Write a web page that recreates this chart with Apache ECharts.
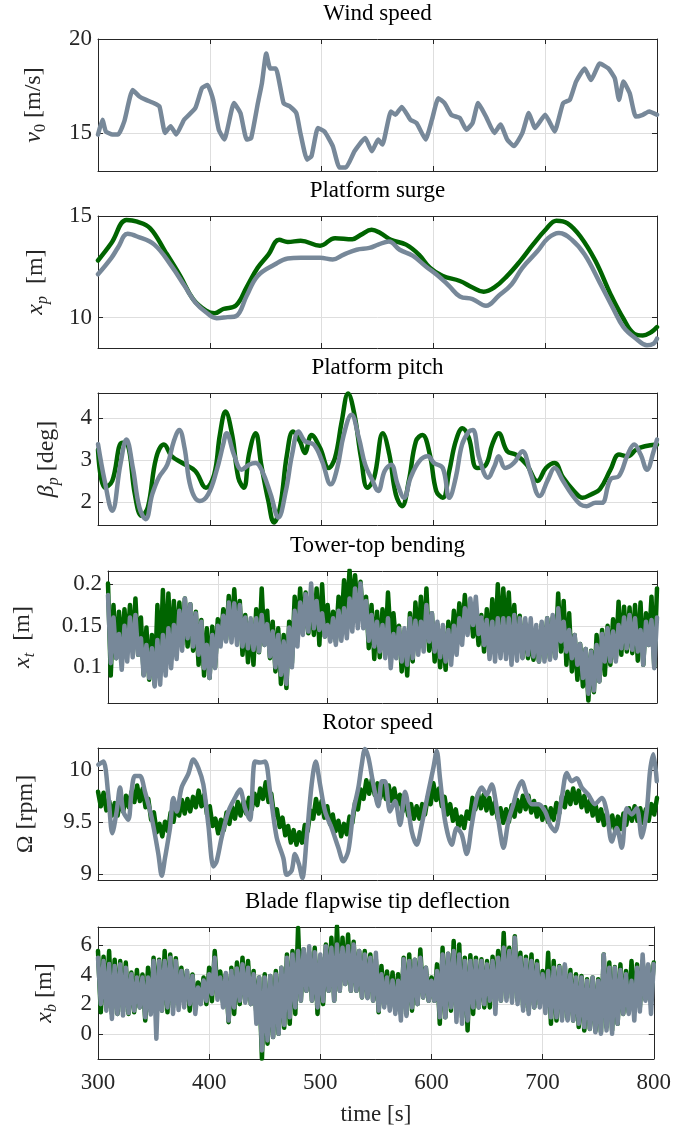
<!DOCTYPE html>
<html><head><meta charset="utf-8">
<script src="https://cdn.jsdelivr.net/npm/echarts@6/dist/echarts.min.js"></script>
<style>html,body{margin:0;padding:0;background:#fff}#c{width:674px;height:1130px}</style>
</head><body><div id="c"></div><script>
const SERIF = '"Liberation Serif","Times New Roman",serif';
const GREEN = '#006400', GRAY = '#778899', INK = '#262626', GRIDC = '#dedede';

// ---- data ----
const windT = [300,304,307,313,318,323.5,331,337,343,350,355,360,365,370,377,387,393,398,403,408,413,421.6,427.4,433,437,443,446.6,450.5,454,459,466,471.7,477.4,481,487,491,496.7,502.5,510,516,521.7,529.4,539,545,550.6,554.4,562,566,571.7,579.4,585,593,598.7,604.4,610,616,623.7,629.5,635,640,647,654.5,660,666,672,679.6,685.3,691,700,708.4,716,722,727.6,735.3,741,748.8,756.5,762.3,766,770,775.6,781,787.3,793,800];
const windV = [14.93,15.72,15.1,14.93,14.93,15.63,17.3,16.95,16.77,16.6,16.42,15.02,15.37,14.93,15.72,16.33,17.4,17.56,16.77,15.19,14.67,16.6,16.07,14.67,14.75,16.6,17.65,19.23,18.44,18.44,16.6,16.42,16.07,15.02,13.6,13.8,15.28,15.1,14.32,13.18,13.18,14.05,14.75,14.05,14.67,14.4,16.16,15.98,16.4,15.72,15.54,14.67,15.72,16.86,16.6,15.98,15.8,15.19,15.54,16.6,15.89,15.02,15.46,14.67,14.32,15.02,16.07,15.28,15.98,15.1,16.6,16.77,17.74,18.44,17.82,18.7,18.44,17.91,16.77,17.74,17.12,15.89,15.98,16.16,15.98];

const surgeGT = [300,312,325.5,335,346.6,360,373.5,385,396.6,404.3,412,423.5,433,442.8,452.4,462,469.7,481.3,498.6,512,527.5,535,544.8,552.5,562,575.6,587,596.8,608,623.7,635,645,654.5,666,677.6,689,700.7,710,720,731.5,745,758.4,770,779.6,787.3,795,800];
const surgeGV = [12.81,13.67,14.8,14.72,14.4,13.26,12.05,10.91,10.34,10.21,10.42,10.6,11.5,12.45,13.1,13.83,13.72,13.78,13.54,13.91,13.86,14.07,14.32,14.16,13.83,13.59,13.1,12.45,12.05,11.8,11.48,11.27,11.48,12.05,12.78,13.59,14.35,14.77,14.64,13.99,12.78,11.15,9.94,9.2,9.12,9.29,9.53];
const surgeYT = [300,312,317.7,326.5,335,350.4,365.8,377.4,387,396.6,406,415.8,423.5,433,442.8,458,469.7,481.3,498.6,510,519.8,531.3,542.8,550.6,560.2,569.8,581.4,593,604.4,614,623.7,635,647,658.4,670,679.6,693,702.6,712.3,723.8,735.3,748.8,760.3,770,781.3,791,797,800];
const surgeYV = [12.13,12.94,13.43,14.12,13.99,13.59,12.53,11.56,10.75,10.26,9.97,10.02,10.07,11.07,12.05,12.61,12.91,12.94,12.94,12.86,13.1,13.34,13.43,13.59,13.75,13.34,13.05,12.53,12.05,11.56,11.04,10.91,10.58,11.07,11.64,12.45,13.26,13.91,14.16,13.83,13.1,11.72,10.5,9.53,8.96,8.64,8.72,8.96];

const pitchGT = [300,306,312.7,321.6,326.6,333,339,344.6,352,359,366,375.4,387,396.6,404,409,414,420,425.5,430.5,435,441,446,452.4,457.4,462.8,469,474.4,480.6,485,491,498.6,506.3,512,518,523.7,529.4,535.3,541,547,554.8,560.6,566.4,572,578,584.4,590.2,596.8,602.6,608.4,614.2,620,626,631.7,639,647,652.6,658.4,666,673.7,683.4,693,700.7,708.4,716,725.7,733.4,741,748.8,758.4,766,773.8,781.4,789.2,800];
const pitchGV = [3.25,2.34,2.5,3.41,3.37,2.18,1.67,1.87,3.05,3.37,3.09,2.93,2.74,2.34,2.66,3.6,4.16,3.6,2.58,2.34,3.13,3.64,2.89,2.02,1.51,1.87,3.13,3.68,3.45,3.17,3.6,3.29,2.81,3.05,3.92,4.59,4.08,3.05,2.34,2.58,3.64,3.13,2.18,1.9,2.5,3.45,3.6,3.13,2.26,2.1,2.74,3.45,3.76,3.53,2.81,2.89,3.37,3.64,3.21,3.13,2.89,2.5,2.81,2.93,2.58,2.26,2.1,2.18,2.3,2.77,3.13,3.09,3.25,3.33,3.37];
const pitchYT = [300,306,312.7,320,325.4,331.2,337,342.7,348.5,354.3,362,367.8,372.7,377.4,383,391,398.5,406,412,415,421.6,428.5,435,441,446.8,454.5,461.3,468,473.6,479.4,485,493,500.5,508.2,514,519.8,526.7,533.3,539,545,550.6,556.4,562.2,568,573.8,579.6,587.3,595,600.6,608.4,614.2,620,625.6,631.7,635.3,641,648.8,654.6,658.4,664.2,672,679.5,687.2,694.9,702.6,708.4,716,723.8,731.5,737.2,745,750.7,758.4,766,773.8,779.6,785.4,791,797,800];
const pitchYV = [3.38,2.5,1.79,2.89,3.49,2.81,1.87,1.59,2.18,2.58,2.89,3.45,3.72,3.29,2.34,2.02,2.18,2.74,3.37,3.64,3.13,2.77,2.89,2.93,2.74,2.18,1.63,2.26,3.13,3.68,3.45,3.37,2.97,2.42,2.81,3.6,4.08,3.53,2.89,2.54,2.26,2.74,2.89,2.42,2.1,2.58,2.97,3.09,2.93,2.81,2.1,2.58,3.37,3.68,3.72,3.05,2.58,2.85,3.09,2.81,2.93,3.21,2.66,2.14,2.54,2.81,2.5,2.18,1.94,1.9,1.98,1.98,2.54,2.62,3.13,3.37,3.13,2.77,3.21,3.49];

// fast-oscillating signals: peaks (hi, at 300,305,...,800 s) and troughs (lo, at 302.5,...,797.5 s)
const towerGHi = [.201,.175,.167,.17,.175,.183,.16,.148,.139,.175,.193,.189,.18,.178,.183,.176,.167,.157,.147,.149,.158,.17,.186,.194,.18,.163,.155,.17,.195,.168,.155,.147,.139,.155,.185,.195,.19,.178,.195,.2,.175,.167,.185,.205,.217,.211,.203,.185,.175,.167,.17,.19,.165,.15,.139,.165,.178,.185,.195,.165,.152,.143,.155,.168,.177,.187,.175,.166,.163,.17,.182,.2,.195,.19,.175,.162,.153,.135,.141,.152,.159,.16,.189,.18,.165,.139,.128,.122,.12,.139,.145,.15,.158,.179,.173,.172,.175,.178,.165,.185,.195];
const towerGLo = [.09,.111,.119,.123,.12,.115,.091,.085,.079,.099,.105,.115,.123,.127,.125,.12,.103,.09,.087,.1,.128,.133,.136,.139,.115,.106,.103,.118,.127,.111,.095,.08,.075,.105,.139,.143,.141,.139,.127,.137,.137,.131,.148,.163,.17,.168,.155,.123,.11,.112,.12,.135,.127,.095,.09,.107,.125,.125,.12,.107,.1,.097,.115,.128,.138,.143,.137,.127,.119,.115,.122,.131,.139,.127,.119,.112,.111,.109,.107,.111,.111,.113,.119,.103,.095,.085,.077,.06,.07,.083,.091,.103,.11,.115,.119,.117,.108,.103,.127,.101];
const towerYHi = [.187,.16,.14,.15,.16,.163,.135,.127,.123,.133,.139,.147,.151,.168,.183,.176,.165,.155,.127,.139,.15,.162,.178,.177,.175,.16,.159,.159,.163,.152,.143,.139,.131,.148,.168,.178,.188,.201,.18,.165,.151,.159,.168,.171,.183,.195,.201,.18,.163,.155,.151,.159,.14,.147,.147,.159,.156,.155,.175,.165,.155,.151,.145,.15,.159,.171,.183,.185,.16,.157,.155,.159,.159,.159,.163,.159,.159,.159,.151,.155,.159,.163,.171,.155,.145,.139,.128,.122,.119,.127,.14,.147,.143,.151,.16,.163,.159,.145,.155,.157,.16];
const towerYLo = [.105,.111,.097,.107,.112,.115,.09,.087,.077,.079,.09,.099,.11,.12,.135,.125,.115,.099,.087,.099,.125,.131,.13,.127,.125,.123,.121,.119,.127,.113,.1,.091,.08,.1,.125,.139,.143,.147,.145,.137,.131,.127,.132,.135,.143,.147,.147,.132,.125,.119,.111,.099,.111,.107,.103,.111,.115,.119,.131,.119,.112,.107,.103,.115,.127,.139,.151,.14,.127,.11,.107,.111,.11,.103,.108,.111,.115,.113,.107,.107,.109,.111,.131,.119,.111,.103,.087,.068,.072,.083,.107,.107,.107,.123,.123,.121,.119,.103,.127,.099];

const rotorGHi = [9.79,9.78,9.7,9.68,9.71,9.75,9.79,9.85,9.82,9.72,9.59,9.48,9.5,9.59,9.67,9.71,9.72,9.74,9.8,9.76,9.65,9.53,9.52,9.59,9.64,9.69,9.7,9.73,9.77,9.82,9.88,9.77,9.62,9.54,9.46,9.42,9.4,9.47,9.61,9.72,9.7,9.65,9.57,9.51,9.48,9.55,9.69,9.81,9.9,9.91,9.87,9.85,9.85,9.82,9.76,9.71,9.67,9.65,9.67,9.74,9.87,9.82,9.74,9.67,9.62,9.55,9.6,9.73,9.77,9.76,9.73,9.69,9.63,9.62,9.66,9.71,9.75,9.75,9.7,9.66,9.64,9.63,9.68,9.75,9.79,9.82,9.8,9.75,9.71,9.67,9.62,9.58,9.56,9.55,9.58,9.63,9.65,9.63,9.62,9.67,9.73];
const rotorGLo = [9.65,9.61,9.56,9.56,9.6,9.64,9.69,9.7,9.64,9.52,9.4,9.36,9.41,9.5,9.56,9.58,9.6,9.64,9.65,9.57,9.46,9.39,9.42,9.48,9.53,9.56,9.58,9.62,9.66,9.72,9.69,9.56,9.45,9.37,9.3,9.28,9.3,9.41,9.53,9.58,9.54,9.48,9.41,9.36,9.38,9.49,9.62,9.72,9.77,9.76,9.73,9.72,9.7,9.66,9.6,9.56,9.53,9.53,9.57,9.67,9.71,9.65,9.57,9.51,9.45,9.44,9.53,9.62,9.63,9.61,9.58,9.53,9.49,9.5,9.55,9.6,9.62,9.59,9.55,9.52,9.5,9.52,9.58,9.64,9.67,9.68,9.64,9.6,9.56,9.51,9.47,9.44,9.42,9.43,9.47,9.51,9.51,9.49,9.51,9.57];
const rotorYT = [300.3,304.8,309.2,312.8,316.7,319.7,322.6,327.1,330,333,337.5,342,348,354,357,359.9,364.4,367.4,370.4,374.8,380.8,385.3,389.7,394.2,398.7,403.2,406.1,410.6,416.6,422.5,427,431.5,435.9,440.4,444.9,449.4,453.9,459.8,465.8,468.8,473.2,476.2,479.8,482.8,486.7,491.1,494.7,498.6,503.1,509,515,519.4,523.9,528.4,532.9,535.9,538.8,541.8,546.3,550.8,553.8,556.7,561.2,565.7,570.2,574.6,580.6,585.1,589.5,595.5,600,603,605.9,610.4,616.4,620.9,625.3,629.8,634.3,638.8,643.2,647.7,652.2,655.2,659.6,662.6,667.1,671.6,674.5,679,683.5,688,694,699.9,704.4,708.8,714.8,719.3,723.7,728.2,732.7,738.6,744.6,750.6,755,759.5,764,768.5,772.9,777.4,781.9,786.4,790.8,793.8,796.8,799.8];
const rotorYV = [10.05,10.08,9.76,9.39,9.6,9.83,9.6,9.52,9.79,9.94,9.94,9.79,9.54,9.19,8.98,9.15,9.44,9.73,9.6,9.83,9.96,10.1,10.02,9.86,9.47,9.07,9.12,9.35,9.6,9.73,9.81,9.63,9.52,10.08,10.07,10.08,9.79,9.35,9.15,8.99,9.03,9.19,9.09,8.96,9.35,9.86,10.08,9.86,9.6,9.44,9.25,9.12,9.22,9.6,9.83,10.05,10.2,10.12,9.86,9.65,9.89,9.89,9.6,9.7,9.47,9.79,9.41,9.28,9.47,9.79,10.02,10.18,9.92,9.51,9.28,9.44,9.38,9.19,9.47,9.73,9.83,9.76,9.86,9.73,9.41,9.25,9.51,9.67,9.79,9.89,9.76,9.67,9.67,9.6,9.47,9.41,9.73,9.97,9.89,9.92,9.83,9.76,9.67,9.73,9.6,9.31,9.44,9.25,9.63,9.57,9.63,9.35,9.6,9.99,10.15,9.89];

const bladeGHi = [5.58,5.2,5.58,5.0,4.9,4.8,4.13,4.3,4.0,4.46,5.13,5.0,5.58,5.35,5.1,4.46,4.24,4.0,3.46,3.8,4.46,5.58,4.2,4.01,4.46,4.8,5.13,4.9,4.24,3.79,4.01,3.9,4.24,4.46,5.35,5.58,7.14,5.69,5.5,5.8,5.13,6.02,6.47,7.25,6.47,6.69,6.2,5.58,5.58,5.35,5.0,4.57,4.2,4.13,4.01,5.13,5.35,5.0,5.69,4.46,3.79,4.68,5.8,5.4,6.25,6.02,5.13,5.3,5.13,5.02,4.9,5.2,5.58,6.8,5.8,6.58,5.46,5.2,5.35,4.9,4.24,5.46,4.9,4.57,4.57,4.3,4.01,3.9,3.68,3.79,3.68,5.35,4.8,4.5,4.68,4.24,4.9,4.68,4.9,4.6,4.8];
const bladeGLo = [1.45,1.78,1.34,1.34,1.5,1.34,1.45,1.78,0.89,1.5,1.78,1.56,1.45,1.78,2.0,2.23,1.56,1.78,2.45,2.0,2.2,2.9,2.12,0.78,1.34,2.0,2.23,2.0,1.34,-1.67,-0.67,-0.22,0.0,0.4,0.67,1.34,2.23,2.9,2.23,1.34,2.0,2.9,2.23,2.9,3.35,2.9,2.9,2.45,2.45,2.23,1.45,2.0,2.0,1.56,1.34,1.34,1.56,2.0,2.45,2.23,2.23,0.67,1.11,1.56,1.3,1.11,0.22,1.34,1.78,1.78,1.78,2.23,2.23,2.45,2.4,2.23,1.78,1.56,1.78,2.0,2.0,0.67,0.89,1.11,1.0,0.89,0.45,0.22,0.33,0.2,0.11,0.45,0.22,0.67,1.34,1.45,1.56,1.78,2.34,2.23];
const bladeYHi = [5.13,4.9,4.7,4.57,4.68,4.46,4.01,3.79,3.8,3.79,4.9,4.9,4.9,5.13,4.9,4.24,4.24,3.9,3.12,3.6,4.01,5.13,3.79,4.1,4.24,4.4,4.68,4.46,4.01,3.79,3.79,3.9,4.01,4.46,5.13,5.35,5.58,5.7,5.91,5.5,5.35,5.91,5.8,6.02,5.8,5.9,6.02,5.58,5.35,5.13,5.46,4.01,3.79,3.6,3.57,5.02,4.9,5.0,5.13,4.46,3.57,4.24,5.35,5.4,5.58,5.35,4.9,4.9,4.9,4.9,4.68,4.9,5.13,5.8,5.58,6.47,5.13,5.0,4.9,4.68,4.01,4.24,4.46,4.5,4.68,4.0,3.79,3.79,3.57,3.79,3.57,5.35,4.46,4.46,4.3,4.01,3.57,4.46,5.35,4.68,4.7];
const bladeYLo = [2.0,1.56,1.0,1.34,1.23,1.4,1.56,1.78,1.11,1.3,-0.33,1.56,1.78,1.34,1.6,1.78,2.0,1.34,2.0,2.23,2.68,2.3,1.78,0.89,1.78,2.23,2.1,2.0,0.67,-1.12,-0.45,-0.22,0.0,0.6,1.11,1.78,2.23,2.9,2.23,1.78,2.2,2.9,2.23,2.9,3.35,2.9,2.9,2.45,2.4,2.23,1.56,1.78,1.56,1.34,0.89,1.2,1.78,2.0,2.45,2.23,2.23,1.11,1.11,1.78,0.8,0.67,0.89,1.78,1.78,2.0,2.23,1.34,2.23,2.23,2.1,2.0,1.56,1.34,1.78,1.78,1.4,1.11,1.11,0.89,0.9,0.89,0.67,0.45,0.33,0.1,0.0,0.22,0.0,0.67,1.34,1.34,0.89,1.5,2.23,1.34];

const titles = ['Wind speed','Platform surge','Platform pitch','Tower-top bending','Rotor speed','Blade flapwise tip deflection'];
const yNames = ['{i|v}{s|0} [m/s]','{i|x}{si|p}  [m]','{i|β}{si|p} [deg]','{i|x}{si|t}  [m]','Ω [rpm]','{i|x}{si|b} [m]'];
const yMin = [13, 8.5, 1.45, 0.057, 8.94, -1.7];
const yMax = [20, 15, 4.6, 0.216, 10.21, 7.2];
const yTicks = [[15,20],[10,15],[2,3,4],[0.1,0.15,0.2],[9,9.5,10],[0,2,4,6]];

// ---- helpers ----
const zip = (a, b) => a.map((t, i) => [t, b[i]]);
// peaks at 300 + 5k s, troughs at 302.5 + 5k s
const osc = (hi, lo) => {
  const out = [];
  for (let k = 0; k < hi.length; k++) {
    out.push([300 + 5 * k, hi[k]]);
    if (k < lo.length) out.push([302.5 + 5 * k, lo[k]]);
  }
  return out;
};

// ---- layout ----
const GL = 98, GW = 559, GH = 132;
const gridTop = [39, 216, 393, 571, 748, 927];
const nameGap = [49, 47, 36, 70, 57, 38];
const FS = 23, FN = 24, FSUB = 16, LW = 4.5;

const seriesDefs = [
  [{c: GRAY, d: zip(windT, windV), s: 0.15}],
  [{c: GREEN, d: zip(surgeGT, surgeGV), s: 0.4}, {c: GRAY, d: zip(surgeYT, surgeYV), s: 0.4}],
  [{c: GREEN, d: zip(pitchGT, pitchGV), s: 0.4}, {c: GRAY, d: zip(pitchYT, pitchYV), s: 0.4}],
  [{c: GREEN, d: osc(towerGHi, towerGLo), s: 0}, {c: GRAY, d: osc(towerYHi, towerYLo), s: 0}],
  [{c: GREEN, d: osc(rotorGHi, rotorGLo), s: 0}, {c: GRAY, d: zip(rotorYT, rotorYV), s: 0.3}],
  [{c: GREEN, d: osc(bladeGHi, bladeGLo), s: 0}, {c: GRAY, d: osc(bladeYHi, bladeYLo), s: 0}]
];

const grid = [], xAxis = [], yAxis = [], series = [], title = [];
const lineAx = {show: true, onZero: false, lineStyle: {color: INK, width: 1}};
const tick = {show: true, inside: true, length: 5, lineStyle: {color: INK, width: 1}};
const txt = {fontFamily: SERIF, fontSize: FS, color: INK};

for (let k = 0; k < 6; k++) {
  grid.push({left: GL, top: gridTop[k], width: GW, height: GH, containLabel: false});
  title.push({text: titles[k], left: GL + GW / 2, top: gridTop[k] - 25, textAlign: 'center', textVerticalAlign: 'middle', padding: 0,
    textStyle: {fontFamily: SERIF, fontSize: FS, fontWeight: 'normal', color: '#000'}});
  const last = k === 5;
  xAxis.push({type: 'value', gridIndex: k, position: 'bottom', min: 300, max: 800, interval: 100,
    axisLine: lineAx, axisTick: tick,
    axisLabel: {show: last, margin: 12, ...txt},
    splitLine: {show: true, lineStyle: {color: GRIDC, width: 1}},
    name: last ? 'time [s]' : '', nameLocation: 'middle', nameGap: 44, nameTextStyle: txt});
  xAxis.push({type: 'value', gridIndex: k, position: 'top', min: 300, max: 800, interval: 100,
    axisLine: lineAx, axisTick: tick, axisLabel: {show: false}, splitLine: {show: false}});
  yAxis.push({type: 'value', gridIndex: k, position: 'left', min: yMin[k], max: yMax[k],
    axisLine: lineAx,
    axisTick: {...tick, customValues: yTicks[k]},
    axisLabel: {customValues: yTicks[k], margin: 6, ...txt},
    splitLine: {show: true, lineStyle: {color: GRIDC, width: 1}},
    name: yNames[k], nameLocation: 'middle', nameGap: nameGap[k],
    nameTextStyle: {fontFamily: SERIF, fontSize: FN, color: INK, lineHeight: 30,
      rich: {
        i: {fontFamily: SERIF, fontSize: FN, fontStyle: 'italic', color: INK, lineHeight: 30},
        s: {fontFamily: SERIF, fontSize: FSUB, color: INK, verticalAlign: 'bottom', lineHeight: 30},
        si: {fontFamily: SERIF, fontSize: FSUB, fontStyle: 'italic', color: INK, verticalAlign: 'bottom', lineHeight: 30}
      }}});
  yAxis.push({type: 'value', gridIndex: k, position: 'right', min: yMin[k], max: yMax[k],
    axisLine: lineAx,
    axisTick: {...tick, customValues: yTicks[k]},
    axisLabel: {show: false}, splitLine: {show: false}});
  for (const sd of seriesDefs[k]) {
    series.push({type: 'line', xAxisIndex: 2 * k, yAxisIndex: 2 * k, data: sd.d,
      showSymbol: false, symbol: 'none', smooth: sd.s || false, clip: true,
      lineStyle: {color: sd.c, width: LW, join: 'round', cap: 'round'}, silent: true});
  }
}

const chart = echarts.init(document.getElementById('c'), null, {renderer: 'canvas'});
chart.setOption({animation: false, backgroundColor: '#fff', title, grid, xAxis, yAxis, series});
</script></body></html>
